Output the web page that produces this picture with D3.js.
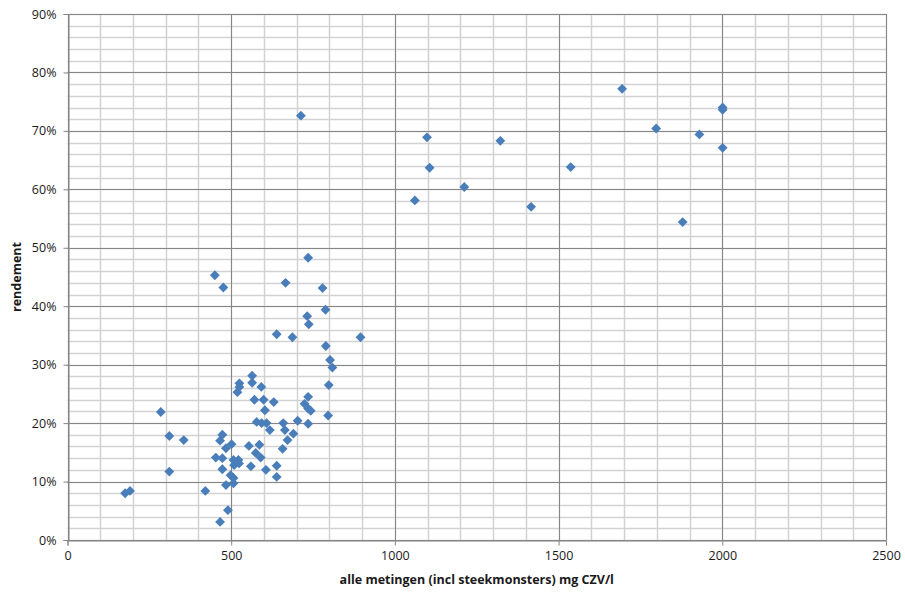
<!DOCTYPE html>
<html>
<head>
<meta charset="utf-8">
<script src="https://cdn.jsdelivr.net/npm/d3@7/dist/d3.min.js"></script>
<style>
  body { margin: 0; background: #fff; }
  svg text { font-family: "Open Sans", "Noto Sans", sans-serif; fill: #1a1a1a; }
</style>
</head>
<body>
<svg id="chart" width="905" height="594"></svg>
<script>
// CZV concentration (mg/l) per measurement
const czv = [
  176, 191, 285, 311, 311, 355, 421, 473, 466, 484, 501, 453, 473, 473,
  507, 522, 509, 524, 498, 507, 484, 507, 466, 490, 560, 554, 586, 575,
  590, 606, 639, 639, 657, 672, 690, 659, 664, 578, 593, 608, 618, 703,
  735, 450, 476, 735, 666, 779, 788, 732, 737, 639, 687, 895, 789, 802,
  809, 798, 735, 724, 735, 743, 796, 564, 525, 525, 519, 564, 592, 571,
  599, 630, 603, 713, 1061, 1098, 1106, 1212, 1322, 1416, 1537, 1694,
  1798, 1879, 1930, 2001, 2001, 2001
];
// removal efficiency (fraction) for the same measurements
const rendement = [
  0.080, 0.084, 0.219, 0.178, 0.117, 0.171, 0.084, 0.180, 0.170, 0.157,
  0.164, 0.141, 0.140, 0.121, 0.137, 0.137, 0.128, 0.131, 0.111, 0.106,
  0.094, 0.097, 0.031, 0.051, 0.126, 0.161, 0.163, 0.149, 0.141, 0.120,
  0.127, 0.108, 0.156, 0.171, 0.182, 0.200, 0.188, 0.202, 0.200, 0.200,
  0.188, 0.204, 0.199, 0.453, 0.432, 0.483, 0.440, 0.431, 0.394, 0.383,
  0.369, 0.352, 0.347, 0.347, 0.332, 0.308, 0.295, 0.265, 0.245, 0.233,
  0.225, 0.221, 0.213, 0.281, 0.268, 0.262, 0.253, 0.269, 0.262, 0.240,
  0.240, 0.236, 0.222, 0.726, 0.581, 0.689, 0.637, 0.604, 0.683, 0.570,
  0.638, 0.772, 0.704, 0.544, 0.694, 0.740, 0.736, 0.671
];
const xTicks = [0, 500, 1000, 1500, 2000, 2500];
const yTicks = [0, 0.1, 0.2, 0.3, 0.4, 0.5, 0.6, 0.7, 0.8, 0.9];
const xMinor = d3.range(0, 2501, 100);
const yMinor = d3.range(0, 46).map(i => i * 0.02);
const xTitle = "alle metingen (incl steekmonsters) mg CZV/l";
const yTitle = "rendement";

const svg = d3.select("#chart");
const pLeft = 67.5, pRight = 886, pTop = 14, pBottom = 540;
const x = d3.scaleLinear().domain([0, 2500]).range([pLeft, pRight]);
const y = d3.scaleLinear().domain([0, 0.9]).range([pBottom, pTop]);
const crisp = v => Math.round(v) + 0.5;

const grid = svg.append("g");
// minor gridlines
grid.selectAll("line.vmin").data(xMinor).join("line")
  .attr("x1", d => crisp(x(d))).attr("x2", d => crisp(x(d)))
  .attr("y1", pTop).attr("y2", pBottom)
  .attr("stroke", "#d2d2d2").attr("stroke-width", 1.5);
grid.selectAll("line.hmin").data(yMinor).join("line")
  .attr("y1", d => crisp(y(d))).attr("y2", d => crisp(y(d)))
  .attr("x1", pLeft).attr("x2", pRight)
  .attr("stroke", "#d2d2d2").attr("stroke-width", 1.5);
// major gridlines
grid.selectAll("line.vmaj").data(xTicks).join("line")
  .attr("x1", d => crisp(x(d))).attr("x2", d => crisp(x(d)))
  .attr("y1", pTop).attr("y2", pBottom)
  .attr("stroke", "#868686").attr("stroke-width", 1);
grid.selectAll("line.hmaj").data(yTicks).join("line")
  .attr("y1", d => crisp(y(d))).attr("y2", d => crisp(y(d)))
  .attr("x1", pLeft).attr("x2", pRight)
  .attr("stroke", "#868686").attr("stroke-width", 1);

// axes
const xAxis = svg.append("g")
  .attr("transform", `translate(0,${crisp(pBottom)})`)
  .call(d3.axisBottom(x).tickValues(xTicks).tickFormat(d3.format("d")).tickSize(5).tickPadding(6));
const yAxis = svg.append("g")
  .attr("transform", `translate(${crisp(pLeft)},0)`)
  .call(d3.axisLeft(y).tickValues(yTicks).tickFormat(d3.format(".0%")).tickSize(5).tickPadding(7));
[xAxis, yAxis].forEach(a => {
  a.selectAll(".domain, line").attr("stroke", "#868686");
  a.selectAll("text").attr("font-size", 12.5).attr("fill", "#1a1a1a");
});

// titles
svg.append("text")
  .attr("x", (pLeft + pRight) / 2).attr("y", 584)
  .attr("text-anchor", "middle").attr("font-size", 12.5).attr("font-weight", "bold")
  .text(xTitle);
svg.append("text")
  .attr("transform", `translate(21,${(pTop + pBottom) / 2}) rotate(-90)`)
  .attr("text-anchor", "middle").attr("font-size", 12.5).attr("font-weight", "bold")
  .text(yTitle);

// diamond markers
const diamond = d3.symbol().type(d3.symbolDiamond2).size(62);
svg.append("g").selectAll("path").data(czv.map((c, i) => [c, rendement[i]])).join("path")
  .attr("d", diamond)
  .attr("transform", d => `translate(${x(d[0])},${y(d[1])})`)
  .attr("fill", "#4a7ebb");
</script>
</body>
</html>
